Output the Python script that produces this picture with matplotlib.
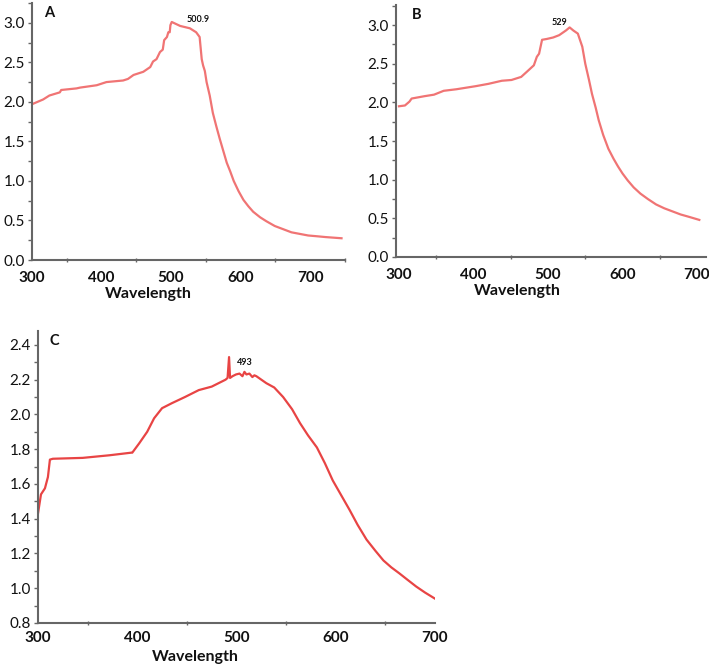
import matplotlib
matplotlib.use("Agg")
import matplotlib.pyplot as plt
from matplotlib.ticker import MultipleLocator, FormatStrFormatter

plt.rcParams['font.family'] = ['Lato', 'DejaVu Sans']

# ---------------- data ----------------
a_wl = [300, 316, 325, 340, 342, 364, 369, 393, 407, 431, 438, 446, 460, 470, 474, 479,
        484, 488, 490, 494, 496, 498, 499, 500.9, 513, 527, 536, 541, 544, 546, 548.5,
        551, 555.5, 560, 565, 570, 575, 580, 585, 590, 597, 604, 611, 618, 628, 637,
        649, 661, 673, 685, 697, 710, 722, 745]
a_abs = [1.97, 2.03, 2.08, 2.12, 2.15, 2.17, 2.18, 2.21, 2.25, 2.27, 2.29, 2.34, 2.38,
         2.44, 2.51, 2.54, 2.63, 2.66, 2.78, 2.82, 2.88, 2.88, 2.97, 3.01, 2.96, 2.93,
         2.88, 2.82, 2.54, 2.46, 2.39, 2.25, 2.08, 1.86, 1.69, 1.53, 1.38, 1.23, 1.12,
         1.00, 0.87, 0.76, 0.68, 0.61, 0.54, 0.49, 0.43, 0.39, 0.35, 0.33, 0.31, 0.30,
         0.29, 0.275]

b_wl = [300, 308, 314, 317, 334, 347, 360, 377, 390, 403, 420, 438, 451, 464, 472, 481,
        485, 488, 492, 498, 507, 515, 524, 529, 534, 540, 546, 550, 555, 559, 564, 568,
        574, 581, 588, 594, 600, 607, 615, 624, 634, 645, 656, 667, 678, 689, 703]
b_abs = [1.95, 1.96, 2.01, 2.05, 2.08, 2.10, 2.15, 2.17, 2.19, 2.21, 2.24, 2.28, 2.29,
         2.33, 2.40, 2.48, 2.59, 2.63, 2.81, 2.82, 2.84, 2.87, 2.93, 2.97, 2.93, 2.89,
         2.72, 2.50, 2.29, 2.11, 1.93, 1.77, 1.58, 1.40, 1.27, 1.17, 1.08, 0.99, 0.90,
         0.82, 0.75, 0.68, 0.63, 0.59, 0.55, 0.52, 0.48]

c_wl = [300, 303, 307, 310, 312, 315, 345, 372, 394, 395, 402, 410, 417, 425, 435, 448,
        462, 475, 489, 491, 492.5, 493.5, 496, 499.5, 503, 506, 508, 510, 513, 516, 518,
        520, 525, 530, 538, 547, 556, 564, 572, 581, 589, 597, 606, 614, 622, 631, 640,
        648, 656, 664, 672, 681, 690, 700]
c_abs = [1.43, 1.54, 1.575, 1.64, 1.74, 1.745, 1.75, 1.765, 1.78, 1.78, 1.834, 1.90, 1.978,
         2.036, 2.065, 2.10, 2.14, 2.16, 2.20, 2.21, 2.33, 2.21, 2.22, 2.23, 2.235, 2.22,
         2.245, 2.23, 2.235, 2.215, 2.225, 2.22, 2.20, 2.18, 2.155, 2.10, 2.03, 1.95, 1.88,
         1.81, 1.72, 1.62, 1.53, 1.45, 1.365, 1.28, 1.215, 1.16, 1.12, 1.086, 1.05, 1.01,
         0.975, 0.94]

panel_labels = ['A', 'B', 'C']
peak_labels = ['500.9', '529', '493']
peak_x = [500.9, 529, 493]
peak_y = [3.01, 2.97, 2.33]

W, H = 709, 668
fig = plt.figure(figsize=(W / 100, H / 100), dpi=100)

def rect(l, t, r, b):
    return [l / W, 1 - b / H, (r - l) / W, (b - t) / H]

axA = fig.add_axes(rect(32, 3, 345, 260))
axB = fig.add_axes(rect(396, 5, 706, 257))
axC = fig.add_axes(rect(38, 331, 435, 623))

spine_col = '#666666'
txt_col = '#111111'

def style(ax, x, y, color, letter, letter_x, xlim, ylim, ymaj, ymin, xpad, xlab_x, lpad):
    ax.plot(x, y, color=color, lw=1.6)
    ax.set_xlim(*xlim)
    ax.set_ylim(*ylim)
    for s in ('top', 'right'):
        ax.spines[s].set_visible(False)
    for s in ('left', 'bottom'):
        ax.spines[s].set_color(spine_col)
        ax.spines[s].set_linewidth(1.5)
    ax.xaxis.set_major_locator(MultipleLocator(100))
    ax.xaxis.set_minor_locator(MultipleLocator(50))
    ax.yaxis.set_major_locator(MultipleLocator(ymaj))
    ax.yaxis.set_minor_locator(MultipleLocator(ymin))
    ax.yaxis.set_major_formatter(FormatStrFormatter('%.1f'))
    ax.tick_params(axis='y', which='both', direction='out', length=3, width=1,
                   color=spine_col, labelsize=11, pad=2, labelcolor=txt_col)
    ax.tick_params(axis='x', which='major', length=0, labelsize=11, pad=xpad,
                   labelcolor=txt_col)
    ax.tick_params(axis='x', which='minor', direction='inout', length=3, width=1,
                   color=spine_col)
    for t in ax.get_xticklabels():
        t.set_fontweight('bold')
    ax.set_xlabel('Wavelength', fontsize=11.5, fontweight='bold', labelpad=lpad,
                  color=txt_col)
    ax.xaxis.label.set_x(xlab_x)
    ax.text(letter_x, 0.99, letter, transform=ax.transAxes, fontsize=10.5,
            fontweight='bold', va='top', ha='left', color=txt_col)

style(axA, a_wl, a_abs, '#f07474', panel_labels[0], 0.04, (300, 750), (0, 3.25),
      0.5, 0.25, 8, 0.37, 1)
style(axB, b_wl, b_abs, '#f07474', panel_labels[1], 0.05, (296, 712), (0, 3.26),
      0.5, 0.25, 8, 0.39, 1)
style(axC, c_wl, c_abs, '#e84444', panel_labels[2], 0.028, (300, 700), (0.8, 2.48),
      0.2, 0.1, 6, 0.395, 3)

annot = [(axA, 19, 2), (axB, -7.6, 3.9), (axC, 11, -3.6)]
for (ax, dx, dy), lab, px, py in zip(annot, peak_labels, peak_x, peak_y):
    ax.annotate(lab, xy=(px, py), xytext=(dx, dy), textcoords='offset points',
                fontsize=6.5, fontweight='bold', ha='center', va='center', color=txt_col)

fig.savefig('out.png', dpi=100)
